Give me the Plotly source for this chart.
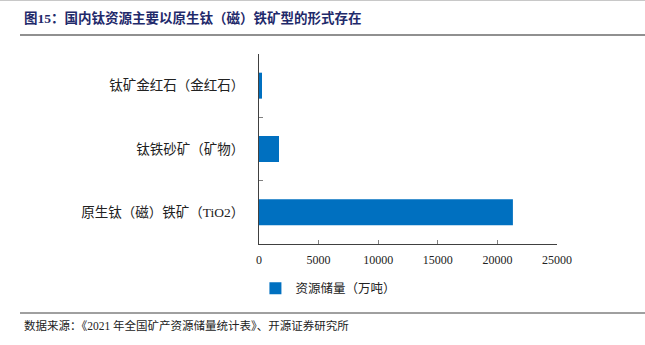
import plotly.graph_objects as go

# Titanium resource reserves by ore type (10k tonnes), listed bottom to top
categories = ["原生钛（磁）铁矿（TiO2）", "钛铁砂矿（矿物）", "钛矿金红石（金红石）"]
reserves = [21300, 1680, 250]
x_ticks = [0, 5000, 10000, 15000, 20000, 25000]
series_name = "资源储量（万吨）"
title_text = "图15：国内钛资源主要以原生钛（磁）铁矿型的形式存在"
source_text = "数据来源：《2021 年全国矿产资源储量统计表》、开源证券研究所"

FONT = "Liberation Serif, Noto Sans CJK SC, serif"
BLUE = "#0070C0"
W, H = 645, 345

fig = go.Figure()
fig.add_trace(go.Bar(
    y=categories,
    x=reserves,
    orientation="h",
    name=series_name,
    marker=dict(color=BLUE, line=dict(width=0)),
    width=0.41,
    showlegend=True,
))

fig.update_layout(
    width=W,
    height=H,
    margin=dict(l=259, r=88, t=54, b=101),
    paper_bgcolor="white",
    plot_bgcolor="white",
    font=dict(family=FONT, size=12, color="#222222"),
    showlegend=True,
    legend=dict(
        orientation="h",
        x=-0.012,
        xanchor="left",
        y=-0.235,
        yanchor="middle",
        font=dict(family=FONT, size=12.5, color="#222222"),
        itemwidth=30,
        bgcolor="rgba(0,0,0,0)",
    ),
    xaxis=dict(
        range=[0, 25000],
        tickvals=x_ticks,
        ticktext=[str(v) for v in x_ticks],
        ticks="inside",
        ticklen=4,
        tickcolor="#808080",
        showline=True,
        linecolor="#404040",
        linewidth=1,
        showgrid=False,
        zeroline=False,
        tickfont=dict(family=FONT, size=12, color="#222222"),
        ticklabelstandoff=5,
        fixedrange=True,
    ),
    yaxis=dict(
        type="category",
        tickson="boundaries",
        ticks="inside",
        ticklen=4,
        tickcolor="#808080",
        showline=True,
        linecolor="#404040",
        linewidth=1,
        showgrid=False,
        zeroline=False,
        tickfont=dict(family=FONT, size=13.5, color="#222222"),
        ticklabelstandoff=11,
        fixedrange=True,
    ),
)

# Title and header rule
fig.add_annotation(
    text="<b>" + title_text + "</b>",
    xref="paper", yref="paper",
    x=-259 / 298 + 22 / 298, y=1 + (54 - 18) / 190,
    xanchor="left", yanchor="middle",
    showarrow=False,
    font=dict(family=FONT, size=13.5, color="#1F2A6B"),
)
fig.add_shape(type="line", xref="paper", yref="paper",
              x0=-259 / 298 + 20 / 298, x1=1 + 88 / 298,
              y0=1 + (54 - 35) / 190, y1=1 + (54 - 35) / 190,
              line=dict(color="#909090", width=2))
fig.add_shape(type="line", xref="paper", yref="paper",
              x0=-259 / 298, x1=1 + 88 / 298,
              y0=1 + (54 - 0.5) / 190, y1=1 + (54 - 0.5) / 190,
              line=dict(color="#C8C8C8", width=1))

# Footer rule and source note
fig.add_shape(type="line", xref="paper", yref="paper",
              x0=-259 / 298 + 20 / 298, x1=1 + 88 / 298,
              y0=-(313 - 244) / 190, y1=-(313 - 244) / 190,
              line=dict(color="#404040", width=1))
fig.add_annotation(
    text=source_text,
    xref="paper", yref="paper",
    x=-259 / 298 + 22 / 298, y=-(325.5 - 244) / 190,
    xanchor="left", yanchor="middle",
    showarrow=False,
    font=dict(family=FONT, size=11.5, color="#222222"),
)

fig.write_html("out.html")
